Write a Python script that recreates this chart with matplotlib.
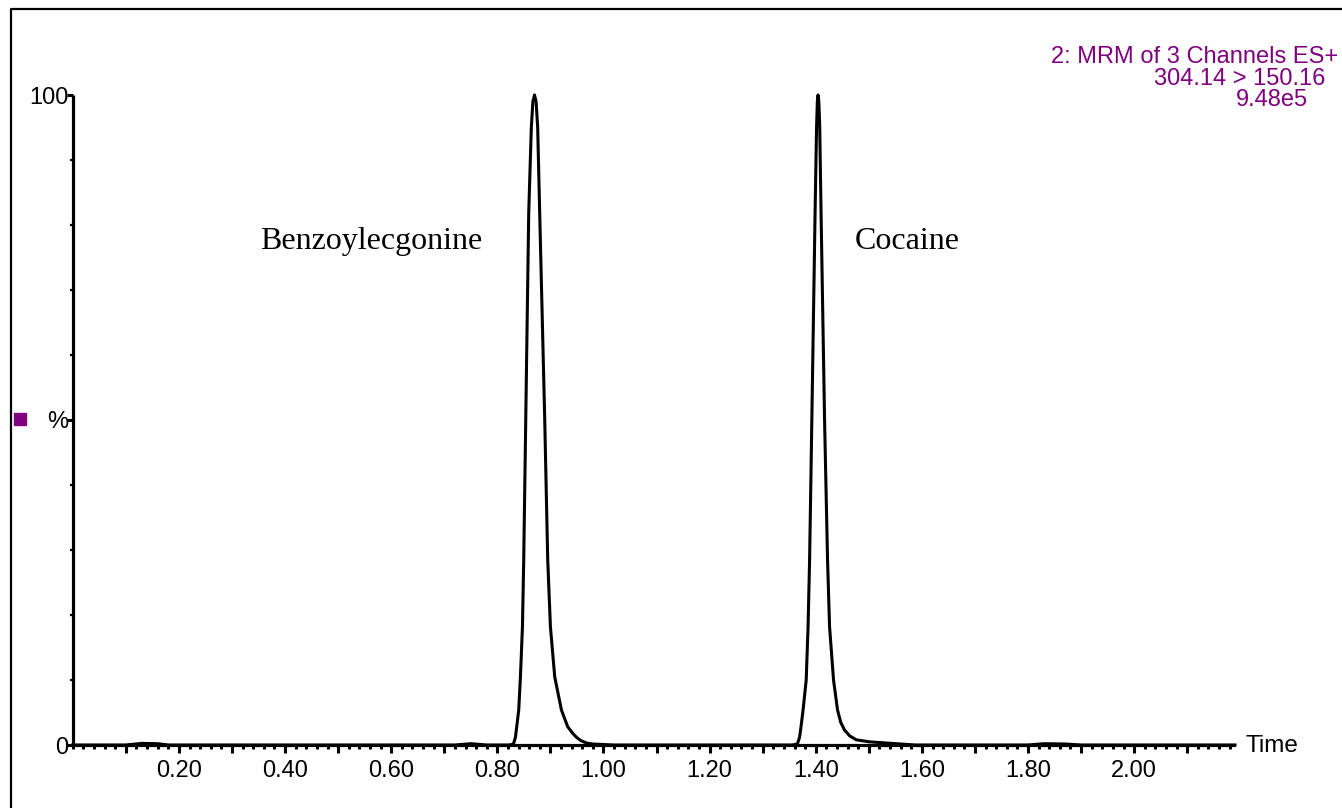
import matplotlib
matplotlib.use("Agg")
import matplotlib.pyplot as plt
from matplotlib.ticker import FixedLocator, MultipleLocator, FuncFormatter
from matplotlib.lines import Line2D
from matplotlib.patches import Rectangle

# chromatogram trace (time in min, intensity in %)
time = [0.000, 0.100, 0.130, 0.160, 0.180, 0.720, 0.750, 0.780, 0.820,
        0.8260, 0.8290, 0.8309, 0.8341, 0.8365, 0.8403, 0.8435, 0.8473,
        0.8497, 0.8535, 0.8591, 0.8640, 0.8670, 0.8700, 0.8730, 0.8760,
        0.8798, 0.8893, 0.8949, 0.9000, 0.9081, 0.9207, 0.9326, 0.9420,
        0.9490, 0.9570, 0.9680, 0.9800, 0.9930, 1.0200,
        1.3550, 1.3630, 1.3660, 1.3695, 1.3722, 1.3761, 1.3820, 1.3855,
        1.3884, 1.3926, 1.3987, 1.4015, 1.4030, 1.4043, 1.4058, 1.4075,
        1.4100, 1.4166, 1.4222, 1.4260, 1.4335, 1.4410, 1.4470, 1.4542,
        1.4640, 1.4763, 1.5000, 1.5330, 1.5880,
        1.800, 1.830, 1.870, 1.900, 2.190]
intensity = [0.0, 0.0, 0.25, 0.2, 0.0, 0.0, 0.2, 0.0, 0.0,
             0.05, 0.12, 0.3, 1.2, 2.8, 5.4, 10.5, 18.2,
             28.5, 50.0, 81.8, 95.0, 99.0, 100.0, 99.0, 95.0,
             81.8, 50.0, 28.5, 18.2, 10.5, 5.4, 2.8, 1.8,
             1.2, 0.7, 0.3, 0.15, 0.1, 0.0,
             0.0, 0.1, 0.3, 1.2, 2.8, 5.4, 10.0, 18.2,
             28.5, 50.0, 81.8, 95.0, 99.0, 100.0, 99.0, 95.0,
             81.8, 50.0, 28.5, 18.2, 10.0, 5.4, 3.5, 2.3,
             1.4, 0.8, 0.5, 0.3, 0.0,
             0.0, 0.2, 0.15, 0.0, 0.0]

peak_names = ['Benzoylecgonine', 'Cocaine']
name_pos = [(0.3525, 77.4), (1.473, 77.4)]
header = ['2: MRM of 3 Channels ES+', '304.14 > 150.16', '9.48e5']

W, H = 1342, 808
purple = '#800080'
sans = 'Liberation Sans'

fig = plt.figure(figsize=(W / 100, H / 100), dpi=100)
ax = fig.add_axes([72.8 / W, 63 / H, (1235 - 72.8) / W, 650 / H])

ax.plot(time, intensity, color='black', lw=2.2, clip_on=False,
        solid_joinstyle='round', zorder=3)

ax.set_xlim(0, 2.19)
ax.set_ylim(0, 100)
for s in ['top', 'right']:
    ax.spines[s].set_visible(False)
for s in ['left', 'bottom']:
    ax.spines[s].set_linewidth(2.3)
    ax.spines[s].set_capstyle('butt')

ax.xaxis.set_major_locator(FixedLocator([i / 10 for i in range(1, 22)]))
ax.xaxis.set_minor_locator(MultipleLocator(0.02))
ax.xaxis.set_major_formatter(FuncFormatter(
    lambda v, p: '%.2f' % v if round(v * 10) % 2 == 0 else ''))
ax.yaxis.set_major_locator(FixedLocator([0, 50, 100]))
ax.yaxis.set_major_formatter(FuncFormatter(
    lambda v, p: {0: '0', 50: '%', 100: '100'}[int(round(v))]))
ax.yaxis.set_minor_locator(MultipleLocator(10))

ax.tick_params(axis='x', which='major', direction='out', length=6,
               width=2.2, pad=5, labelsize=17)
ax.tick_params(axis='x', which='minor', direction='out', length=3, width=2.2)
ax.tick_params(axis='y', which='major', direction='out', length=4.5,
               width=2.2, pad=-1.5, labelsize=17)
ax.tick_params(axis='y', which='minor', direction='out', length=2.5, width=1.6)
for lab in ax.get_xticklabels() + ax.get_yticklabels():
    lab.set_fontfamily(sans)

for name, (x, y) in zip(peak_names, name_pos):
    ax.text(x, y, name, fontsize=23, family='Liberation Serif',
            ha='left', va='center')

fig.text(1245 / W, 1 - 746.5 / H, 'Time', fontsize=17.5, family=sans,
         ha='left', va='center')

for txt, xr, yc in zip(header, [1338, 1325, 1308], [57, 79, 100]):
    fig.text(xr / W, 1 - yc / H, txt, fontsize=17, family=sans,
             color=purple, ha='right', va='center')

# purple channel marker next to the % label
fig.patches.append(Rectangle((14 / W, 1 - 425 / H), 12 / W, 12 / H,
                             transform=fig.transFigure, color=purple))

# frame around the plot (left and top edges visible)
fig.lines.append(Line2D([11 / W, 11 / W, 1], [0, 1 - 9 / H, 1 - 9 / H],
                        transform=fig.transFigure, color='black', lw=1.6))

fig.savefig('out.png', dpi=100)
